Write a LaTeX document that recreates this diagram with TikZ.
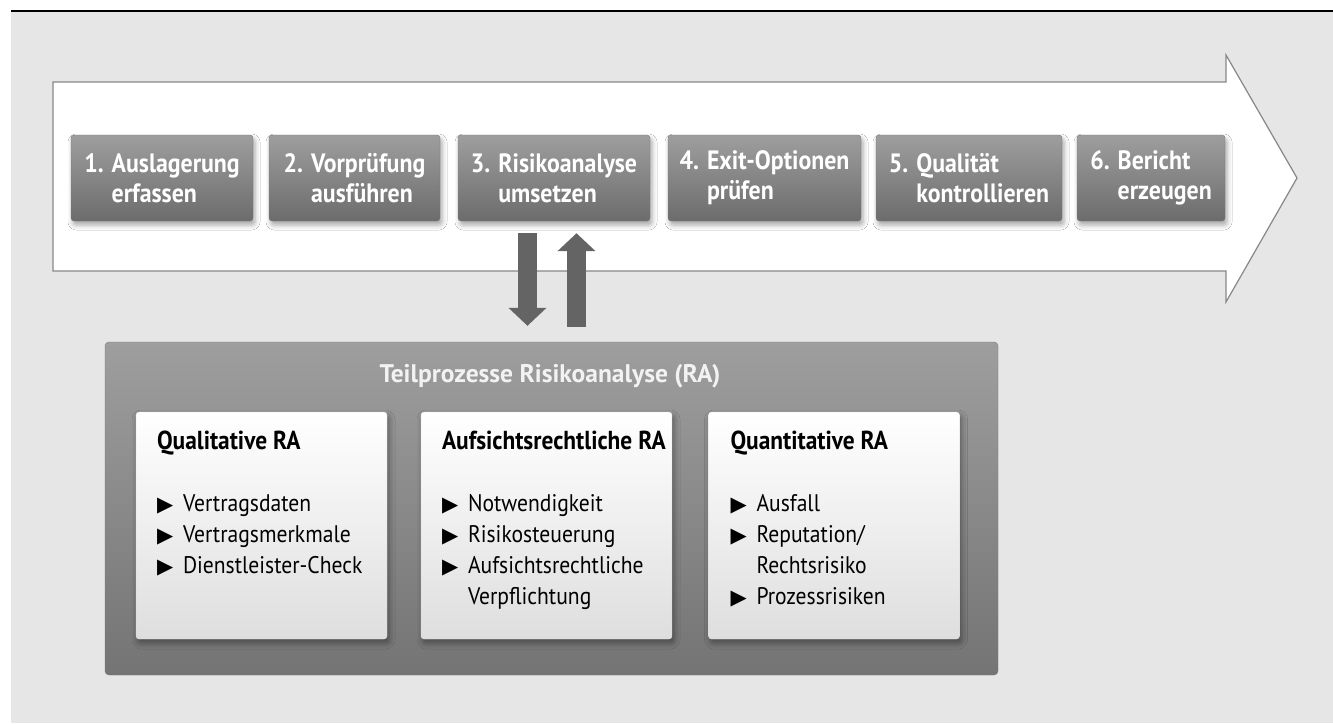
\documentclass[tikz,border=0pt]{standalone}
\usepackage{fontspec}
\setmainfont{PT Sans}
\newfontfamily\narrowfont[FakeStretch=0.9]{PT Sans}
\newfontfamily\symfont{DejaVu Sans}
\usetikzlibrary{arrows.meta,shadows.blur}

\definecolor{bggray}{RGB}{230,230,230}
\definecolor{arrowline}{RGB}{135,135,135}
\definecolor{steptop}{RGB}{158,158,158}
\definecolor{stepmid}{RGB}{148,148,148}
\definecolor{stepbot}{RGB}{108,108,108}
\definecolor{stepline}{RGB}{120,120,120}
\definecolor{flowgray}{RGB}{100,100,100}
\definecolor{ratop}{RGB}{158,158,158}
\definecolor{rabot}{RGB}{116,116,116}
\definecolor{subbot}{RGB}{222,222,222}

\newcommand\bul{\makebox[26pt][l]{\symfont\fontsize{21}{21}\selectfont ▶}}
\newcommand\cont{\hspace*{26pt}}

\begin{document}
\begin{tikzpicture}[x=1pt, y=-1pt,
  stepbox/.style={rounded corners=3pt, draw=stepline, top color=steptop, middle color=stepmid, bottom color=stepbot,
    text=white, font=\narrowfont\bfseries\fontsize{26.5}{30}\selectfont, align=left, minimum height=86pt, inner sep=0pt,
    blur shadow={shadow xshift=2pt, shadow yshift=-4pt, shadow blur radius=5pt, shadow opacity=35}},
  flowarrow/.style={line width=19pt, draw=flowgray, -{Triangle[width=37pt, length=18pt]}},
  rabox/.style={rounded corners=4pt, draw=stepline, top color=ratop, bottom color=rabot,
    minimum width=893pt, minimum height=333pt},
  subbox/.style={rounded corners=3pt, draw=white!85!black, top color=white, middle color=white!97!black, bottom color=subbot,
    minimum width=251pt, minimum height=227pt,
    blur shadow={shadow xshift=2pt, shadow yshift=-4pt, shadow blur radius=6pt, shadow opacity=40}},
  subtext/.style={anchor=north west, align=left, inner sep=0pt, font=\narrowfont\fontsize{24}{31}\selectfont}]

\useasboundingbox (0,0) rectangle (1333,723);
\fill[bggray] (11,12) rectangle (1333,723);
\draw[line width=2pt] (11,11) -- (1333,11);

% process arrow
\draw[line width=1.2pt, draw=arrowline, fill=white]
  (53,82) -- (1226,82) -- (1226,55) -- (1297,178) -- (1226,302) -- (1226,271) -- (53,271) -- cycle;

% steps
\node[stepbox, minimum width=182pt] (s1) at (162,178) {1. Auslagerung\\\phantom{1. }erfassen};
\node[stepbox, minimum width=171pt] (s2) at (354.5,178) {2. Vorprüfung\\\phantom{2. }ausführen};
\node[stepbox, minimum width=192pt] (s3) at (554,178) {3. Risikoanalyse\\\phantom{3. }umsetzen};
\node[stepbox, minimum width=193pt] (s4) at (764.5,178) {4. Exit-Optionen\\\phantom{4. }prüfen};
\node[stepbox, minimum width=186pt] (s5) at (969,178) {5. Qualität\\\phantom{5. }kontrollieren};
\node[stepbox, minimum width=148pt] (s6) at (1151,178) {6. Bericht\\\phantom{6. }erzeugen};

% sub-processes
\node[rabox] (ra) at (551.5,508.5) {};
\node[text=white!95!black, font=\bfseries\fontsize{25.5}{28}\selectfont] (ratitle) at (550,376) {Teilprozesse Risikoanalyse (RA)};

\node[subbox] (qual) at (261.5,525.5) {};
\node[subbox] (aufs) at (546.5,525.5) {};
\node[subbox] (quant) at (834,525.5) {};

\node[subtext] (qualtext) at ([shift={(21pt,-19pt)}]qual.north west)
  {{\fontsize{26}{31}\selectfont\bfseries Qualitative RA}\\[31pt]\bul Vertragsdaten\\\bul Vertragsmerkmale\\\bul Dienstleister-Check};
\node[subtext] (aufstext) at ([shift={(21pt,-19pt)}]aufs.north west)
  {{\fontsize{26}{31}\selectfont\bfseries Aufsichtsrechtliche RA}\\[31pt]\bul Notwendigkeit\\\bul Risikosteuerung\\\bul Aufsichtsrechtliche\\\cont Verpflichtung};
\node[subtext] (quanttext) at ([shift={(22pt,-19pt)}]quant.north west)
  {{\fontsize{26}{31}\selectfont\bfseries Quantitative RA}\\[31pt]\bul Ausfall\\\bul Reputation/\\\cont Rechtsrisiko\\\bul Prozessrisiken};

% exchange with step 3
\draw[flowarrow, shorten <=12pt, shorten >=16pt] ([xshift=-26.5pt]s3.south) -- ([xshift=-26.5pt]s3.south |- ra.north);
\draw[flowarrow, shorten <=15pt, shorten >=12pt] ([xshift=22.5pt]s3.south |- ra.north) -- ([xshift=22.5pt]s3.south);
\end{tikzpicture}
\end{document}
